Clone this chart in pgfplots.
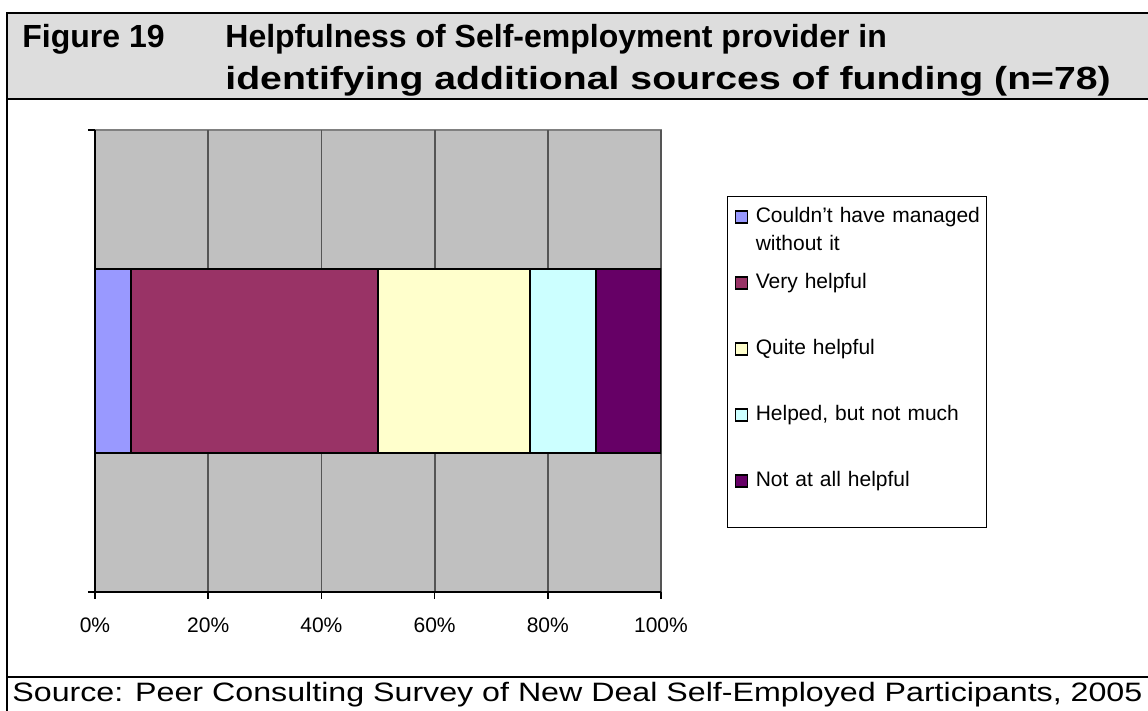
\documentclass[border=0pt]{standalone}
\usepackage{pgfplots}
\pgfplotsset{compat=1.18}
\usepackage{fontspec}
\setmainfont{Liberation Sans}
\definecolor{c1}{HTML}{9999FF}
\definecolor{c2}{HTML}{993366}
\definecolor{c3}{HTML}{FFFFCC}
\definecolor{c4}{HTML}{CCFFFF}
\definecolor{c5}{HTML}{660066}
\definecolor{plotgray}{HTML}{C0C0C0}
\definecolor{titlegray}{HTML}{DDDDDD}
\definecolor{gridgray}{HTML}{555555}
\definecolor{bordergray}{HTML}{808080}
\pgfplotsset{mylegend/.style={legend image code/.code={\draw[##1,draw=black,line width=0.6pt] (0pt,3.6pt) rectangle (6pt,9.6pt);}}}
\begin{document}
\begin{tikzpicture}
\path[use as bounding box] (0,0) rectangle (574pt,355.5pt);
\fill[white] (0,0) rectangle (574pt,355.5pt);
\fill[titlegray] (3.5pt,306pt) rectangle (574pt,349pt);
\draw[line width=1pt] (574pt,349pt) -- (3.5pt,349pt) -- (3.5pt,-1pt);
\draw[line width=1pt] (3.5pt,306pt) -- (574pt,306pt);
\draw[line width=1pt] (3.5pt,17pt) -- (574pt,17pt);
\node[anchor=base west, inner sep=0pt, font=\fontsize{16}{20}\selectfont\bfseries] at (11pt,331.5pt) {Figure 19};
\node[anchor=base west, inner sep=0pt, font=\fontsize{16}{20}\selectfont\bfseries] at (112.5pt,331.5pt) {Helpfulness of Self-employment provider in};
\node[anchor=base west, inner sep=0pt, font=\fontsize{16}{20}\selectfont\bfseries] at (112.5pt,310.5pt) {\scalebox{1.225}[1]{identifying additional sources of funding (n=78)}};
\node[anchor=base west, inner sep=0pt, font=\fontsize{13.3}{16}\selectfont] at (6pt,4.5pt) {\scalebox{1.21}[1]{Source: Peer Consulting Survey of New Deal Self-Employed Participants, 2005}};
\begin{axis}[
  at={(47.5pt,59.5pt)}, anchor=south west,
  scale only axis, width=283pt, height=231pt,
  xbar stacked, bar width=92pt,
  xmin=0, xmax=100, ymin=-1, ymax=1,
  axis x line*=bottom, axis y line*=left,
  axis line style={black, line width=0.8pt},
  axis background/.style={fill=plotgray, draw=bordergray, line width=1pt},
  xtick={0,20,40,60,80,100}, ytick={-1,1}, yticklabels={,},
  xticklabel={\pgfmathprintnumber{\tick}\%},
  xticklabel style={anchor=center, yshift=-13pt, font=\fontsize{10.5}{12}\selectfont},
  /pgf/number format/assume math mode=true,
  tick align=outside, major tick length=3.5pt,
  tick style={black, line width=0.8pt},
  xmajorgrids, grid style={gridgray, line width=0.9pt},
  legend style={at={(1.1166,0.857)}, anchor=north west, draw=black, line width=0.6pt,
    inner xsep=3.5pt, inner ysep=0.3pt, row sep=0pt, column sep=4pt,
    font=\fontsize{10.5}{14}\selectfont,
    nodes={inner sep=0pt, text height=12.8pt, text depth=20.2pt, text width=112pt, align=left}},
  legend cell align=left,
]
\addplot[fill=c1, draw=black, line width=0.9pt, mylegend] coordinates {(6.41,0)};
\addplot[fill=c2, draw=black, line width=0.9pt, mylegend] coordinates {(43.59,0)};
\addplot[fill=c3, draw=black, line width=0.9pt, mylegend] coordinates {(26.92,0)};
\addplot[fill=c4, draw=black, line width=0.9pt, mylegend] coordinates {(11.54,0)};
\addplot[fill=c5, draw=black, line width=0.9pt, mylegend] coordinates {(11.54,0)};
\legend{{\mbox{Couldn’t have managed}\\without it}, Very helpful, Quite helpful, {Helped, but not much}, Not at all helpful}
\end{axis}
\end{tikzpicture}
\end{document}
